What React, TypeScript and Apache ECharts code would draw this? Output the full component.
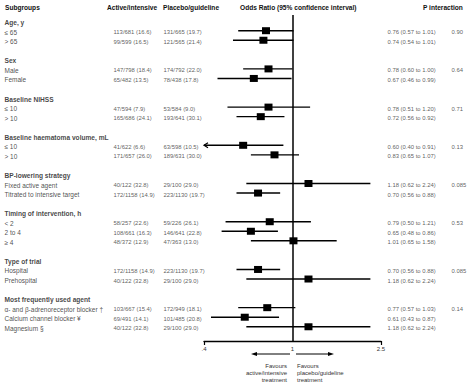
import React, { useEffect, useRef } from "react";
import * as echarts from "echarts";

const groupTitles = [
  "Age, y",
  "Sex",
  "Baseline NIHSS",
  "Baseline haematoma volume, mL",
  "BP-lowering strategy",
  "Timing of intervention, h",
  "Type of trial",
  "Most frequently used agent",
];
const groupSizes = [2, 2, 2, 2, 2, 3, 2, 3];
const pInteraction = ["0.90", "0.64", "0.71", "0.13", "0.085", "0.53", "0.085", "0.14"];

const subgroups = [
  "≤ 65", "> 65",
  "Male", "Female",
  "≤ 10", "> 10",
  "≤ 10", "> 10",
  "Fixed active agent", "Titrated to intensive target",
  "< 2", "2 to 4", "≥ 4",
  "Hospital", "Prehospital",
  "α- and β-adrenoreceptor blocker †", "Calcium channel blocker ¥", "Magnesium §",
];
const activeEvents = [
  "113/681 (16.6)", "99/599 (16.5)",
  "147/798 (18.4)", "65/482 (13.5)",
  "47/594 (7.9)", "165/686 (24.1)",
  "41/622 (6.6)", "171/657 (26.0)",
  "40/122 (32.8)", "172/1158 (14.9)",
  "58/257 (22.6)", "108/661 (16.3)", "48/372 (12.9)",
  "172/1158 (14.9)", "40/122 (32.8)",
  "103/667 (15.4)", "69/491 (14.1)", "40/122 (32.8)",
];
const placeboEvents = [
  "131/665 (19.7)", "121/565 (21.4)",
  "174/792 (22.0)", "78/438 (17.8)",
  "53/584 (9.0)", "193/641 (30.1)",
  "63/598 (10.5)", "189/631 (30.0)",
  "29/100 (29.0)", "223/1130 (19.7)",
  "59/226 (26.1)", "146/641 (22.8)", "47/363 (13.0)",
  "223/1130 (19.7)", "29/100 (29.0)",
  "172/949 (18.1)", "101/485 (20.8)", "29/100 (29.0)",
];
const oddsRatio = [0.76, 0.74, 0.78, 0.67, 0.78, 0.72, 0.60, 0.83, 1.18, 0.70, 0.79, 0.65, 1.01, 0.70, 1.18, 0.77, 0.61, 1.18];
const ciLower = [0.57, 0.54, 0.60, 0.46, 0.51, 0.56, 0.40, 0.65, 0.62, 0.56, 0.50, 0.48, 0.65, 0.56, 0.62, 0.57, 0.43, 0.62];
const ciUpper = [1.01, 1.01, 1.00, 0.99, 1.20, 0.92, 0.91, 1.07, 2.24, 0.88, 1.21, 0.86, 1.58, 0.88, 2.24, 1.03, 0.87, 2.24];

const xTickLabels = [0.4, 1, 2.5];
const xTickMarks = [0.4, 2.5];

const FONT = '"Liberation Sans", Arial, sans-serif';
const X_MIN = 0.4;
const X_MAX = 2.5;
const Y_MIN = -0.644;
const Y_MAX = 33.49;

const fmt2 = (v: number) => v.toFixed(2);

export default function App() {
  const ref = useRef<HTMLDivElement>(null);

  useEffect(() => {
    if (!ref.current) return;
    const chart = echarts.init(ref.current, null, { renderer: "svg" });

    const forestData: any[] = [];
    const textData: any[] = [];
    let row = 0;
    let k = 0;
    const labelBase = { fontFamily: FONT };
    groupTitles.forEach((title, g) => {
      textData.push({
        value: [4, row],
        text: title,
        label: { ...labelBase, fontSize: 6.6, fontWeight: "bold", color: "#111" },
      });
      for (let i = 0; i < groupSizes[g]; i++) {
        const r = row + 1 + i;
        forestData.push([oddsRatio[k], r, ciLower[k], ciUpper[k]]);
        textData.push({ value: [4, r], text: subgroups[k], label: { ...labelBase, fontSize: 6.5, color: "#222" } });
        textData.push({ value: [113, r], text: activeEvents[k], label: { ...labelBase, fontSize: 5.9, color: "#333" } });
        textData.push({ value: [163, r], text: placeboEvents[k], label: { ...labelBase, fontSize: 5.9, color: "#333" } });
        textData.push({
          value: [387, r],
          text: `${fmt2(oddsRatio[k])} (${fmt2(ciLower[k])} to ${fmt2(ciUpper[k])})`,
          label: { ...labelBase, fontSize: 5.9, color: "#333" },
        });
        if (i === 0) {
          textData.push({ value: [451, r], text: pInteraction[g], label: { ...labelBase, fontSize: 5.9, color: "#333" } });
        }
        k++;
      }
      row += groupSizes[g] + 2;
    });

    const headerStyle = { font: `bold 6.6px ${FONT}`, fill: "#111", verticalAlign: "middle" as const };

    chart.setOption({
      animation: false,
      backgroundColor: "#fff",
      grid: [
        { left: 204, width: 177, top: 15, height: 326, outerBoundsMode: "none", containLabel: false },
        { left: 0, width: 474, top: 15, height: 326, outerBoundsMode: "none", containLabel: false },
      ],
      xAxis: [
        {
          type: "log",
          logBase: 10,
          gridIndex: 0,
          position: "bottom",
          min: X_MIN,
          max: X_MAX,
          axisLine: { show: true, onZero: false, lineStyle: { color: "#000", width: 1.3 } },
          axisTick: { show: true, customValues: xTickMarks, length: 4, inside: false, lineStyle: { color: "#000", width: 1.2 } },
          axisLabel: {
            show: true,
            customValues: xTickLabels,
            margin: 5,
            fontSize: 6,
            color: "#333",
            fontFamily: FONT,
            formatter: (v: number) => {
              if (Math.abs(v - 0.4) < 1e-6) return ".4";
              if (Math.abs(v - 1) < 1e-6) return "1";
              return "2.5";
            },
          },
          splitLine: { show: false },
          minorTick: { show: false },
          minorSplitLine: { show: false },
        },
        { type: "value", gridIndex: 1, min: 0, max: 474, show: false },
      ],
      yAxis: [
        { type: "value", gridIndex: 0, inverse: true, min: Y_MIN, max: Y_MAX, show: false },
        { type: "value", gridIndex: 1, inverse: true, min: Y_MIN, max: Y_MAX, show: false },
      ],
      series: [
        {
          type: "custom",
          xAxisIndex: 0,
          yAxisIndex: 0,
          data: forestData,
          encode: { x: [0, 2, 3], y: 1 },
          clip: false,
          renderItem: (params: any, api: any) => {
            const or = api.value(0);
            const r = api.value(1);
            const lo = api.value(2);
            const hi = api.value(3);
            const pOr = api.coord([or, r]);
            const pLo = api.coord([Math.max(lo, X_MIN), r]);
            const pHi = api.coord([Math.min(hi, X_MAX), r]);
            const children: any[] = [
              {
                type: "line",
                shape: { x1: pLo[0], y1: pLo[1], x2: pHi[0], y2: pHi[1] },
                style: { stroke: "#000", lineWidth: 1.4 },
              },
              {
                type: "rect",
                shape: { x: pOr[0] - 4, y: pOr[1] - 3.5, width: 8, height: 7 },
                style: { fill: "#000" },
              },
            ];
            if (lo <= X_MIN + 1e-9) {
              children.push({
                type: "polyline",
                shape: { points: [[pLo[0] + 4, pLo[1] - 2.5], [pLo[0], pLo[1]], [pLo[0] + 4, pLo[1] + 2.5]] },
                style: { stroke: "#000", lineWidth: 1.2, fill: "none" },
              });
            }
            return { type: "group", children };
          },
          markLine: {
            silent: true,
            symbol: "none",
            label: { show: false },
            lineStyle: { color: "#000", width: 1.5, type: "solid" },
            data: [{ xAxis: 1 }],
          },
          z: 3,
        },
        {
          type: "scatter",
          xAxisIndex: 1,
          yAxisIndex: 1,
          symbolSize: 1,
          itemStyle: { color: "rgba(0,0,0,0)" },
          data: textData,
          label: {
            show: true,
            position: "right",
            distance: 0,
            offset: [0, 1.5],
            formatter: (p: any) => p.data.text,
          },
          z: 2,
        },
      ],
      graphic: [
        { type: "text", x: 5, y: 7, style: { ...headerStyle, text: "Subgroups" } },
        { type: "text", x: 107, y: 7, style: { ...headerStyle, text: "Active/intensive" } },
        { type: "text", x: 163, y: 7, style: { ...headerStyle, text: "Placebo/guideline" } },
        { type: "text", x: 240, y: 7, style: { ...headerStyle, text: "Odds Ratio (95% confidence interval)" } },
        { type: "text", x: 423, y: 7, style: { ...headerStyle, text: "P interaction" } },
        { type: "line", shape: { x1: 255, y1: 354, x2: 290, y2: 354 }, style: { stroke: "#000", lineWidth: 1 } },
        { type: "polygon", shape: { points: [[251, 354], [257, 352], [257, 356]] }, style: { fill: "#000" } },
        { type: "line", shape: { x1: 296, y1: 354, x2: 330, y2: 354 }, style: { stroke: "#000", lineWidth: 1 } },
        { type: "polygon", shape: { points: [[334, 354], [328, 352], [328, 356]] }, style: { fill: "#000" } },
        {
          type: "text",
          x: 287,
          y: 362.5,
          style: {
            text: "Favours\nactive/intensive\ntreatment",
            align: "right",
            verticalAlign: "top",
            font: `6px ${FONT}`,
            lineHeight: 7,
            fill: "#333",
          },
        },
        {
          type: "text",
          x: 297,
          y: 362.5,
          style: {
            text: "Favours\nplacebo/guideline\ntreatment",
            align: "left",
            verticalAlign: "top",
            font: `6px ${FONT}`,
            lineHeight: 7,
            fill: "#333",
          },
        },
      ],
    });

    return () => chart.dispose();
  }, []);

  return (
    <div
      ref={ref}
      style={{ position: "fixed", left: 0, top: 0, width: 474, height: 390, background: "#fff" }}
    />
  );
}
